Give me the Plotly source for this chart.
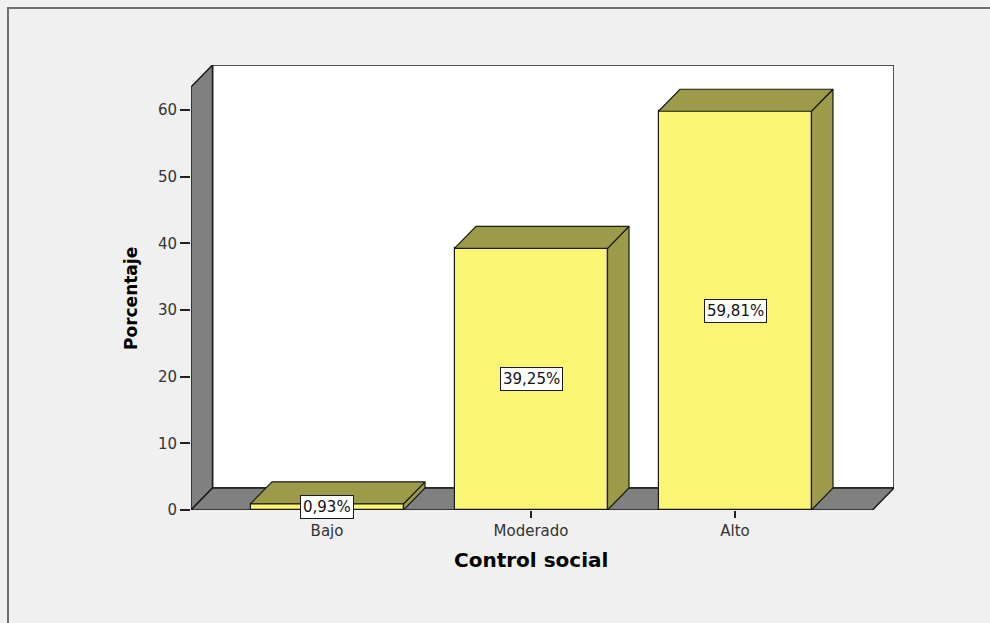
import plotly.graph_objects as go

# ---- data ----
categories = ["Bajo", "Moderado", "Alto"]
percentages = [0.93, 39.25, 59.81]
value_labels = ["0,93%", "39,25%", "59,81%"]
y_ticks = [0, 10, 20, 30, 40, 50, 60]

# ---- geometry ----
W, H = 990, 623
L, R, T, B = 191, 96, 65, 113
plot_w = W - L - R
plot_h = H - T - B
cat_px = 204.0
units_per_px_y = 60.0 / 400.0
xr0 = -136.0 / cat_px
xr1 = xr0 + plot_w / cat_px
yr0 = 0.0
yr1 = plot_h * units_per_px_y
dx = 21.5 / cat_px
dy = 22.0 * units_per_px_y
bar_w = 0.75

FRONT = "#faf573"
SIDE = "#9c9b4a"
WALL = "#808080"
EDGE = "#1a1a1a"
FONT = "DejaVu Sans"

xpos = list(range(len(categories)))

fig = go.Figure()

# 3D faces of bars (side + top), derived from the data values
for i, v in zip(xpos, percentages):
    xl, xr = i - bar_w / 2, i + bar_w / 2
    fig.add_trace(go.Scatter(
        x=[xr, xr + dx, xr + dx, xr, xr],
        y=[0, dy, v + dy, v, 0],
        mode="lines", fill="toself", fillcolor=SIDE,
        line=dict(color=EDGE, width=1.2), hoverinfo="skip", showlegend=False))
    fig.add_trace(go.Scatter(
        x=[xl, xl + dx, xr + dx, xr, xl],
        y=[v, v + dy, v + dy, v, v],
        mode="lines", fill="toself", fillcolor=SIDE,
        line=dict(color=EDGE, width=1.2), hoverinfo="skip", showlegend=False))

fig.add_trace(go.Bar(
    x=xpos, y=percentages, width=bar_w,
    marker=dict(color=FRONT, line=dict(color=EDGE, width=1.2)),
    showlegend=False, hoverinfo="skip"))

shapes = []
# back wall
shapes.append(dict(type="rect", xref="x", yref="y", layer="below",
                   x0=xr0 + dx, x1=xr1, y0=dy, y1=yr1,
                   fillcolor="white", line=dict(color=EDGE, width=1.5)))
# left wall
shapes.append(dict(type="path", xref="x", yref="y", layer="below",
                   path=f"M {xr0},0 L {xr0},{yr1 - dy} L {xr0 + dx},{yr1} L {xr0 + dx},{dy} Z",
                   fillcolor=WALL, line=dict(color=EDGE, width=1.5)))
# floor
shapes.append(dict(type="path", xref="x", yref="y", layer="below",
                   path=f"M {xr0},0 L {xr0 + dx},{dy} L {xr1},{dy} L {xr1 - dx},0 Z",
                   fillcolor=WALL, line=dict(color=EDGE, width=1.5)))
# outer frame
shapes.append(dict(type="rect", xref="paper", yref="paper",
                   x0=(8 - L) / plot_w, x1=1.5,
                   y0=-1.0, y1=(H - B - 8) / plot_h,
                   line=dict(color="#707070", width=2), fillcolor="rgba(0,0,0,0)"))

annotations = []
for i, v, t in zip(xpos, percentages, value_labels):
    annotations.append(dict(x=i, y=v / 2, xref="x", yref="y", text=t,
                            showarrow=False, bgcolor="white",
                            bordercolor=EDGE, borderwidth=1, borderpad=2,
                            font=dict(family=FONT, size=15, color="#111111")))
annotations.append(dict(x=(531 - L) / plot_w, y=-(560 - (H - B)) / plot_h,
                        xref="paper", yref="paper", text="<b>Control social</b>",
                        showarrow=False, xanchor="center", yanchor="middle",
                        font=dict(family=FONT, size=20, color="#000000")))
annotations.append(dict(x=(131 - L) / plot_w, y=(H - B - 299) / plot_h,
                        xref="paper", yref="paper", text="<b>Porcentaje</b>",
                        showarrow=False, textangle=-90, xanchor="center", yanchor="middle",
                        font=dict(family=FONT, size=17, color="#000000")))

fig.update_layout(
    width=W, height=H,
    margin=dict(l=L, r=R, t=T, b=B, pad=0),
    paper_bgcolor="#f0f0f0", plot_bgcolor="rgba(0,0,0,0)",
    shapes=shapes, annotations=annotations,
    bargap=0,
    xaxis=dict(range=[xr0, xr1], tickmode="array", tickvals=xpos, ticktext=categories,
               showgrid=False, zeroline=False, showline=False,
               ticks="outside", ticklen=7, tickcolor="#222222", tickwidth=1.5,
               tickfont=dict(family=FONT, size=15, color="#333333"), fixedrange=True),
    yaxis=dict(range=[yr0, yr1], tickmode="array", tickvals=y_ticks,
               showgrid=False, zeroline=False, showline=False,
               ticks="outside", ticklen=10, tickcolor="#222222", tickwidth=1.5,
               tickfont=dict(family=FONT, size=15, color="#333333"), fixedrange=True),
)

fig.write_html("out.html", config={"displayModeBar": False},
               post_script="document.body.style.margin='0';document.body.style.background='#f0f0f0';")
